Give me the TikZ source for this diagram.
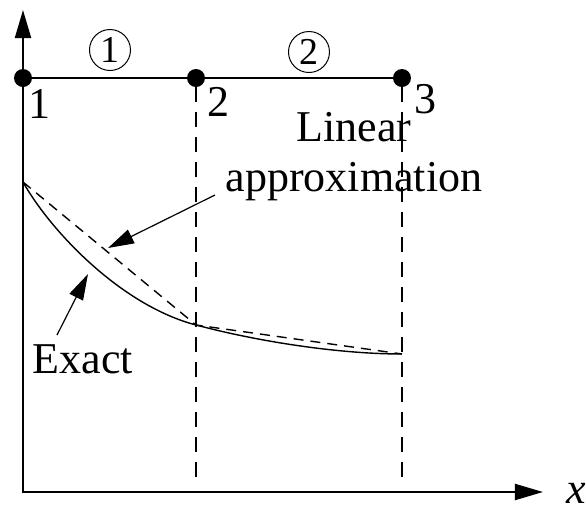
\documentclass[tikz,border=0pt]{standalone}
\usepackage{fontspec}
\setmainfont{Liberation Serif}
\usetikzlibrary{arrows.meta,positioning}

\begin{document}
\begin{tikzpicture}[x=0.5pt,y=-0.5pt,
  dot/.style={circle,fill,inner sep=0pt,minimum size=9pt},
  lbl/.style={inner sep=0pt,font=\fontsize{22}{25}\selectfont},
  elem/.style={circle,draw,line width=0.5pt,inner sep=0pt,minimum size=20.5pt,font=\fontsize{19}{22}\selectfont},
  axis/.style={line width=1pt,{Triangle[length=14pt,width=8pt]}-{Triangle[length=14pt,width=8pt]}},
  guide/.style={line width=1pt,dash pattern=on 7.5pt off 5pt},
  arr/.style={line width=0.6pt,-{Triangle[length=13pt,width=7.5pt]}}]
\useasboundingbox (0,0) rectangle (586,505);
% axes
\coordinate (o) at (23,492);
\coordinate (ytip) at (23,10);
\coordinate (xtip) at (543,492);
\draw[axis] (ytip)--(o)--(xtip);
\node[lbl,anchor=west] (xl) at (566,493) {\textit{x}};
% element nodes
\node[dot] (n1) at (23,78) {};
\node[dot] (n2) at (196,78) {};
\node[dot] (n3) at (402,78) {};
\draw[line width=1pt] (n1)--(n3);
\node[lbl] (t1) at (40,104) {1};
\node[lbl] (t2) at (218,102) {2};
\node[lbl] (t3) at (426,99) {3};
\node[elem] (e1) at (110,50) {1};
\node[elem] (e2) at (309,52) {2};
% element boundaries
\coordinate (b2) at (196,485);
\coordinate (b3) at (402,485);
\draw[guide] (n2)--(b2);
\draw[guide] (n3)--(b3);
% exact and linear solutions
\coordinate (f1) at (23,182);
\coordinate (f2) at (196,325);
\coordinate (f3) at (402,354);
\draw[line width=0.7pt] (f1) .. controls (50,230) and (120,305) .. (f2)
  .. controls (260,342) and (340,354) .. (f3);
\draw[line width=0.7pt,dash pattern=on 5pt off 3.5pt] (f1)--(f2)--(f3);
% callouts
\node[lbl,align=center] (lin) at (354,157) {Linear\\approximation};
\node[lbl] (ex) at (83,359) {Exact};
\coordinate (lintail) at (215,195);
\coordinate (linhead) at (108,248);
\coordinate (extail) at (57,335);
\coordinate (exhead) at (88,274);
\draw[arr] (lintail)--(linhead);
\draw[arr] (extail)--(exhead);
\end{tikzpicture}
\end{document}
